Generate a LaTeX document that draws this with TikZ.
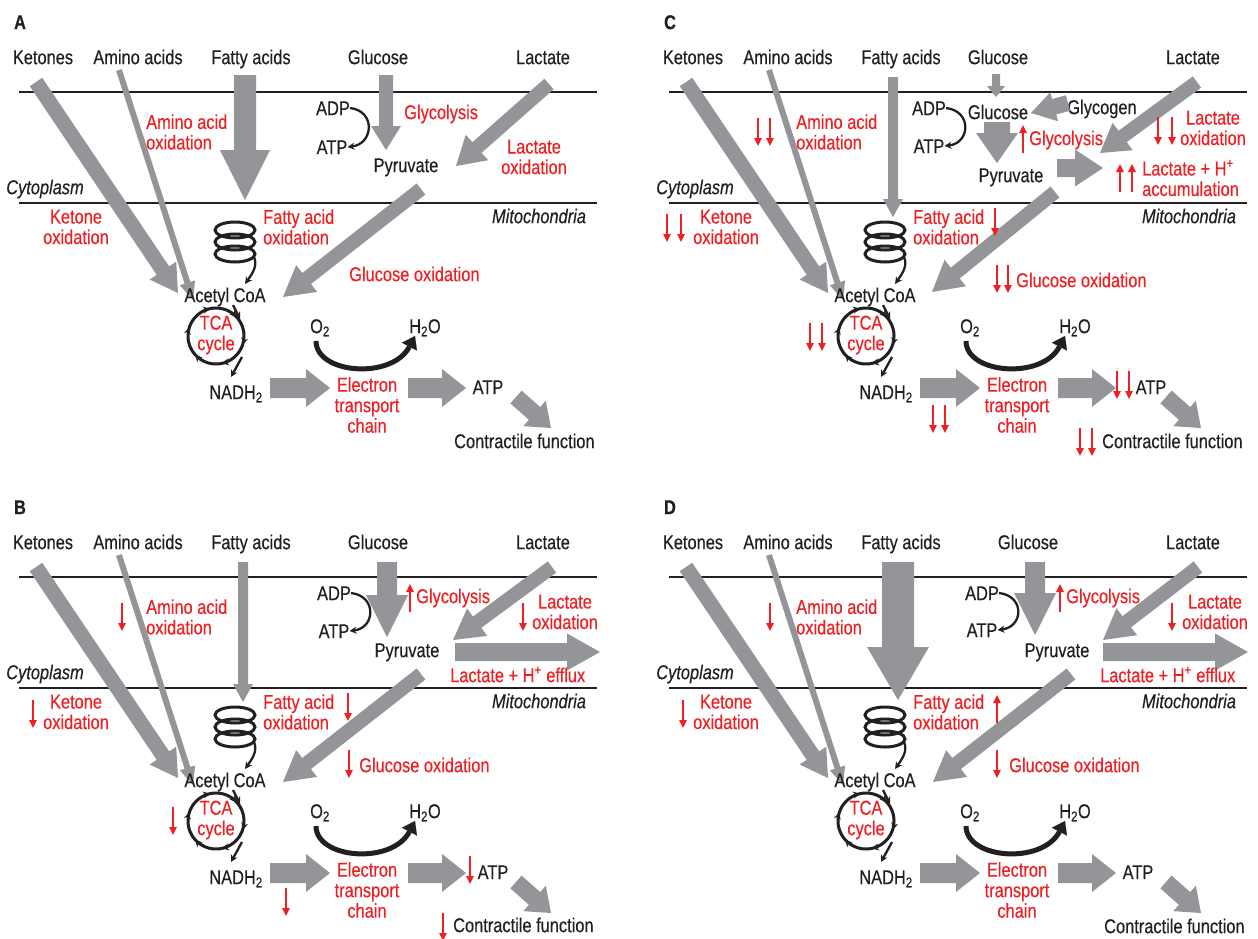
\documentclass[tikz,border=0pt]{standalone}
\usepackage{fontspec}
\setmainfont[FakeStretch=0.82,FakeBold=0.4]{Liberation Sans}
\usetikzlibrary{arrows.meta,calc,decorations.markings}

\definecolor{ag}{RGB}{148,149,153}
\definecolor{rd}{RGB}{237,32,36}
\definecolor{ink}{RGB}{35,31,32}

\tikzset{
  txt/.style={inner sep=0pt, font=\fontsize{20}{20.5}\selectfont},
  lbl/.style={txt, text=ink, text height=14.3pt, text depth=0pt},
  it/.style={lbl, font=\fontsize{20}{20.5}\selectfont\itshape},
  plet/.style={lbl, font=\fontsize{20}{20.5}\selectfont\bfseries},
  rl/.style={txt, text=rd, text height=14.3pt, text depth=0pt},
  rml/.style={txt, text=rd, align=left},
  rmc/.style={txt, text=rd, align=center},
  membrane/.style={draw=ink, line width=2.6pt},
  redarr/.style={draw=rd, line width=1.5pt, -{Triangle[length=8pt,width=7.5pt]}},
  thinblk/.style={draw=ink, line width=2.3pt, -{Stealth[length=7pt,width=7pt]}},
  o2arr/.style={draw=ink, line width=5pt, -{Triangle[length=12pt,width=17pt,line width=0.1pt]}},
}

% gray block arrow: start, end, half shaft width, half head width, head length
\newcommand\blockarrow[5]{%
  \coordinate (ba-b) at ($(#2)!#5pt!(#1)$);
  \fill[ag] ($(#1)!#3pt!90:(#2)$) -- ($(ba-b)!#3pt!-90:(#1)$) -- ($(ba-b)!#4pt!-90:(#1)$)
    -- (#2) -- ($(ba-b)!#4pt!90:(#1)$) -- ($(ba-b)!#3pt!90:(#1)$) -- ($(#1)!#3pt!-90:(#2)$) -- cycle;}
% small red trend arrows
\newcommand\rdn[2]{\draw[redarr] (#1,#2) -- ++(0,28);}
\newcommand\rup[2]{\draw[redarr] (#1,#2) -- ++(0,-28);}
% ADP -> ATP hook
\newcommand\adpcurve{\draw[thinblk] (adp.east) .. controls +(26,3) and +(26,-3) .. (atp.east);}

% parts shared by all four panels
\newcommand\commonpanel[1]{%
  \node[plet] (tag) at (20,22) {#1};
  \node[lbl] (ket) at (43,57) {Ketones};
  \node[lbl] (aa) at (138,57) {Amino acids};
  \node[lbl] (fa) at (251,57) {Fatty acids};
  \node[lbl] (lac) at (543,57) {Lactate};
  \draw[membrane] (19,92) -- (597,92);
  \draw[membrane] (19,203) -- (597,203);
  \node[it] (cyto) at (45,187) {Cytoplasm};
  \node[it] (mito) at (539,216) {Mitochondria};
  \coordinate (ket-s) at (36,82); \coordinate (ket-e) at (178,293);
  \blockarrow{ket-s}{ket-e}{7.5}{16}{27}
  \coordinate (aa-s) at (119,70); \coordinate (aa-e) at (193,300);
  \blockarrow{aa-s}{aa-e}{3}{8}{18}
  \node[rmc] (ketox) at (76,227) {Ketone\\oxidation};
  \node[rml, anchor=west] (aaox) at (146,132) {Amino acid\\oxidation};
  \node[rml, anchor=west] (faox) at (263,227) {Fatty acid\\oxidation};
  % beta-oxidation spiral
  \foreach \yy in {230,242,254}{\draw[ink, line width=3pt] (235,\yy) ellipse[x radius=20, y radius=8];}
  \coordinate (coil-out) at (254,257);
  \node[lbl] (acoa) at (225,295) {Acetyl CoA};
  \coordinate (acoa-in) at (245,284);
  \draw[thinblk] (coil-out) .. controls (258,266) and (252,274) .. (acoa-in);
  % TCA cycle
  \draw[ink, line width=3pt, postaction={decorate},
    decoration={markings, mark=between positions 0.05 and 0.99 step 0.1667 with {\arrow{Stealth[length=7pt,width=7pt]}}}]
    plot[domain=0:360,samples=91] ({216+28*cos(\x)},{336+28*sin(\x)});
  \node[rmc] (tca) at (216,335) {TCA\\cycle};
  \coordinate (acoa-out) at (233,305); \coordinate (tca-in) at (240,319);
  \draw[thinblk] (acoa-out) -- (tca-in);
  \coordinate (tca-out) at (242,357); \coordinate (nadh-in) at (231,377);
  \draw[thinblk] (tca-out) -- (nadh-in);
  \node[lbl] (nadh) at (236,392) {NADH\textsubscript{2}};
  % respiratory chain
  \node[rmc] (etc) at (367,405) {Electron\\transport\\chain};
  \coordinate (n-s) at (270,388); \coordinate (n-e) at (330,388);
  \blockarrow{n-s}{n-e}{10}{19}{24}
  \coordinate (e-s) at (408,388); \coordinate (e-e) at (466,388);
  \blockarrow{e-s}{e-e}{10}{19}{24}
  \coordinate (c-s) at (516,397); \coordinate (c-e) at (551,428);
  \blockarrow{c-s}{c-e}{8.5}{17}{22}
  \node[lbl] (o2) at (320,326) {O\textsubscript{2}};
  \node[lbl] (h2o) at (425,326) {H\textsubscript{2}O};
  \coordinate (o2-s) at (316,341); \coordinate (h2o-e) at (415,336);
  \draw[o2arr] (o2-s) .. controls (316,374) and (392,380) .. (h2o-e);
}

\begin{document}
\begin{tikzpicture}[x=1pt, y=-1pt]
\useasboundingbox (0,0) rectangle (1258,938);

% ---------------- A: normal heart ----------------
\begin{scope}[name prefix=A-]
  \commonpanel{A}
  \node[lbl] (glu) at (378,57) {Glucose};
  \coordinate (fa-s) at (245,75); \coordinate (fa-e) at (245,200);
  \blockarrow{fa-s}{fa-e}{11}{25}{50}
  \coordinate (glu-s) at (386,75); \coordinate (glu-e) at (386,150);
  \blockarrow{glu-s}{glu-e}{7}{15}{24}
  \node[lbl] (adp) at (333,108) {ADP};
  \node[lbl] (atp) at (332,147) {ATP};
  \adpcurve
  \node[lbl] (pyr) at (406,165) {Pyruvate};
  \node[rl, anchor=west] (glyc) at (404,112) {Glycolysis};
  \coordinate (lac-s) at (549,84); \coordinate (lac-e) at (456,166);
  \blockarrow{lac-s}{lac-e}{7}{17}{28}
  \node[rmc] (lacox) at (534,157) {Lactate\\oxidation};
  \coordinate (go-s) at (421,189); \coordinate (go-e) at (283,297);
  \blockarrow{go-s}{go-e}{7}{17}{30}
  \node[rl, anchor=west] (gluox) at (349,274) {Glucose oxidation};
  \node[lbl] (atpb) at (488,387) {ATP};
  \node[lbl, anchor=west] (cf) at (454,441) {Contractile function};
\end{scope}

% ---------------- B ----------------
\begin{scope}[shift={(0,485)}, name prefix=B-]
  \commonpanel{B}
  \node[lbl] (glu) at (378,57) {Glucose};
  \coordinate (fa-s) at (243,77); \coordinate (fa-e) at (243,217);
  \blockarrow{fa-s}{fa-e}{5}{10}{18}
  \coordinate (glu-s) at (387,77); \coordinate (glu-e) at (387,152);
  \blockarrow{glu-s}{glu-e}{10}{21}{42}
  \node[lbl] (adp) at (334,108) {ADP};
  \node[lbl] (atp) at (334,146) {ATP};
  \adpcurve
  \node[lbl] (pyr) at (407,165) {Pyruvate};
  \rup{410}{127}
  \node[rl, anchor=west] (glyc) at (416,111) {Glycolysis};
  \coordinate (lac-s) at (552,82); \coordinate (lac-e) at (453,155);
  \blockarrow{lac-s}{lac-e}{7}{17}{30}
  \coordinate (ef-s) at (455,167); \coordinate (ef-e) at (600,167);
  \blockarrow{ef-s}{ef-e}{9}{18.5}{33}
  \node[rl, anchor=west] (efx) at (450,190) {Lactate + H\textsuperscript{+} efflux};
  \rdn{523}{118}
  \node[rmc] (lacox) at (565,127) {Lactate\\oxidation};
  \coordinate (go-s) at (421,189); \coordinate (go-e) at (283,297);
  \blockarrow{go-s}{go-e}{7}{17}{30}
  \rdn{122}{118}
  \rdn{33}{215}
  \rdn{348}{208}
  \rdn{349}{265}
  \node[rl, anchor=west] (gluox) at (359,280) {Glucose oxidation};
  \rdn{173}{322}
  \rdn{286}{403}
  \rdn{470}{371}
  \node[lbl] (atpb) at (493,387) {ATP};
  \rdn{443}{428}
  \node[lbl, anchor=west] (cf) at (453,440) {Contractile function};
\end{scope}

% ---------------- C ----------------
\begin{scope}[shift={(650,0)}, name prefix=C-]
  \commonpanel{C}
  \node[lbl] (glu) at (348,57) {Glucose};
  \coordinate (fa-s) at (243,77); \coordinate (fa-e) at (243,217);
  \blockarrow{fa-s}{fa-e}{5}{10}{18}
  \coordinate (glu-s) at (346,74); \coordinate (glu-e) at (346,97);
  \blockarrow{glu-s}{glu-e}{4}{9}{11}
  \node[lbl] (gluin) at (348,112) {Glucose};
  \node[lbl] (gly) at (452,107) {Glycogen};
  \coordinate (gly-s) at (418,103); \coordinate (gly-e) at (381,113);
  \blockarrow{gly-s}{gly-e}{8}{15}{24}
  \coordinate (gp-s) at (347,122); \coordinate (gp-e) at (347,163);
  \blockarrow{gp-s}{gp-e}{13}{21}{30}
  \node[lbl] (adp) at (279,108) {ADP};
  \node[lbl] (atp) at (279,146) {ATP};
  \adpcurve
  \node[lbl] (pyr) at (361,175) {Pyruvate};
  \rup{373}{153}
  \node[rl, anchor=west] (glyc) at (379,138) {Glycolysis};
  \coordinate (pr-s) at (407,168); \coordinate (pr-e) at (453,168);
  \blockarrow{pr-s}{pr-e}{9}{18.5}{28}
  \coordinate (lac-s) at (547,82); \coordinate (lac-e) at (450,153);
  \blockarrow{lac-s}{lac-e}{7}{17}{28}
  \rdn{508}{117}\rdn{522}{117}
  \node[rmc] (lacox) at (563,128) {Lactate\\oxidation};
  \rup{470}{192}\rup{482}{192}
  \node[rml, anchor=west] (acc) at (492,178) {Lactate + H\textsuperscript{+}\\accumulation};
  \coordinate (go-s) at (405,192); \coordinate (go-e) at (282,292);
  \blockarrow{go-s}{go-e}{7}{17}{30}
  \rdn{108}{118}\rdn{120}{118}
  \rdn{17}{214}\rdn{31}{214}
  \rdn{345}{208}
  \rdn{347}{265}\rdn{358}{265}
  \node[rl, anchor=west] (gluox) at (366,280) {Glucose oxidation};
  \rdn{160}{323}\rdn{172}{323}
  \rdn{283}{405}\rdn{295}{405}
  \rdn{467}{371}\rdn{479}{371}
  \node[lbl] (atpb) at (501,387) {ATP};
  \rdn{430}{428}\rdn{442}{428}
  \node[lbl, anchor=west] (cf) at (452,441) {Contractile function};
\end{scope}

% ---------------- D ----------------
\begin{scope}[shift={(650,485)}, name prefix=D-]
  \commonpanel{D}
  \node[lbl] (glu) at (378,57) {Glucose};
  \coordinate (fa-s) at (248,77); \coordinate (fa-e) at (248,215);
  \blockarrow{fa-s}{fa-e}{16}{31}{53}
  \coordinate (glu-s) at (385,77); \coordinate (glu-e) at (385,150);
  \blockarrow{glu-s}{glu-e}{10}{21}{42}
  \node[lbl] (adp) at (332,108) {ADP};
  \node[lbl] (atp) at (332,145) {ATP};
  \adpcurve
  \node[lbl] (pyr) at (407,165) {Pyruvate};
  \rup{410}{127}
  \node[rl, anchor=west] (glyc) at (416,111) {Glycolysis};
  \coordinate (lac-s) at (548,82); \coordinate (lac-e) at (453,155);
  \blockarrow{lac-s}{lac-e}{7}{17}{30}
  \coordinate (ef-s) at (453,167); \coordinate (ef-e) at (598,167);
  \blockarrow{ef-s}{ef-e}{9}{18.5}{33}
  \node[rl, anchor=west] (efx) at (450,190) {Lactate + H\textsuperscript{+} efflux};
  \rdn{522}{118}
  \node[rmc] (lacox) at (565,127) {Lactate\\oxidation};
  \coordinate (go-s) at (421,189); \coordinate (go-e) at (283,297);
  \blockarrow{go-s}{go-e}{7}{17}{30}
  \rdn{120}{118}
  \rdn{33}{215}
  \rup{347}{238}
  \rdn{347}{265}
  \node[rl, anchor=west] (gluox) at (359,280) {Glucose oxidation};
  \node[lbl] (atpb) at (488,387) {ATP};
  \node[lbl, anchor=west] (cf) at (454,441) {Contractile function};
\end{scope}
\end{tikzpicture}
\end{document}
